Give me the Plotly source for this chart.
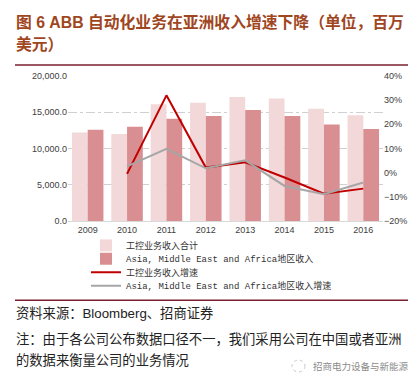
import plotly.graph_objects as go

years = ["2009", "2010", "2011", "2012", "2013", "2014", "2015", "2016"]
total_rev = [12200, 12000, 16100, 16300, 17100, 16900, 15500, 14600]
amea_rev = [12600, 13000, 14100, 14500, 15300, 14500, 13300, 12700]
total_growth = [None, -0.5, 32.0, 2.1, 4.3, -2.0, -8.7, -6.6]
amea_growth = [None, 2.6, 9.9, 1.8, 5.1, -5.5, -8.9, -4.1]

names = ["工控业务收入合计", "Asia, Middle East and Africa地区收入",
         "工控业务收入增速", "Asia, Middle East and Africa地区收入增速"]

W, H = 416, 377
L, R, T, B = 60, 41, 68, 163.5
pw, ph = W - L - R, H - T - B

def px(x):
    return (x - L) / pw

def py(y):
    return (H - B - y) / ph

fig = go.Figure()
fig.add_trace(go.Bar(x=years, y=total_rev, name=names[0], marker_color="#F2D8D9",
                     marker_line_width=0, legend="legend"))
fig.add_trace(go.Bar(x=years, y=amea_rev, name=names[1], marker_color="#D98F91",
                     marker_line_width=0, legend="legend2"))
fig.add_trace(go.Scatter(x=years, y=total_growth, name=names[2], yaxis="y2",
                         mode="lines", line=dict(color="#C00000", width=2),
                         legend="legend3"))
fig.add_trace(go.Scatter(x=years, y=amea_growth, name=names[3], yaxis="y2",
                         mode="lines", line=dict(color="#A6A6A6", width=2),
                         legend="legend4"))

legfont = dict(family="Liberation Mono, Noto Sans CJK SC", size=9, color="#333333")

def leg(ycenter):
    return dict(x=px(78), y=py(ycenter), xanchor="left", yanchor="middle",
                font=legfont, itemwidth=30, bgcolor="rgba(0,0,0,0)",
                borderwidth=0, tracegroupgap=0)

tickfont = dict(family="Liberation Sans, Arial", size=9, color="#404040")
fig.update_layout(
    width=W, height=H, margin=dict(l=L, r=R, t=T, b=B),
    paper_bgcolor="white", plot_bgcolor="white",
    barmode="group", bargap=0.2, bargroupgap=0,
    showlegend=True,
    legend=leg(238), legend2=leg(251.5), legend3=leg(265), legend4=leg(278.5),
    xaxis=dict(tickfont=tickfont, showgrid=False, showline=True,
               linecolor="#D9D9D9", linewidth=1, ticks=""),
    yaxis=dict(range=[0, 20000], dtick=5000, tickformat=",.1f",
               tickfont=tickfont, showgrid=True, gridcolor="#D0D0D0",
               griddash="dashdot", gridwidth=1, zeroline=False, ticks=""),
    yaxis2=dict(range=[-20, 40], dtick=10, ticksuffix="%", overlaying="y",
                side="right", tickfont=tickfont, showgrid=False,
                zeroline=False, ticks=""),
    font=dict(family="Noto Sans CJK SC"),
)

title_color = "#A0461E"
tfont = dict(family="Liberation Sans, Noto Sans CJK SC", size=15.8, color=title_color)
fig.add_annotation(text="<b>图 6 ABB 自动化业务在亚洲收入增速下降（单位，百万</b>",
                   xref="paper", yref="paper", x=px(6), y=py(14),
                   xanchor="left", yanchor="middle", showarrow=False, font=tfont)
fig.add_annotation(text="<b>美元）</b>",
                   xref="paper", yref="paper", x=px(6), y=py(36),
                   xanchor="left", yanchor="middle", showarrow=False, font=tfont)

for yline in (57, 293):
    fig.add_shape(type="line", xref="paper", yref="paper",
                  x0=px(7), x1=px(412), y0=py(yline), y1=py(yline),
                  line=dict(color="#7A1F2E", width=1.5))

body = dict(family="Liberation Sans, Noto Sans CJK SC", size=13.3, color="#222222")
fig.add_annotation(text="资料来源：Bloomberg、招商证券", xref="paper", yref="paper",
                   x=px(6), y=py(306), xanchor="left", yanchor="middle",
                   showarrow=False, font=body)
fig.add_annotation(text="注：由于各公司公布数据口径不一，我们采用公司在中国或者亚洲",
                   xref="paper", yref="paper", x=px(6), y=py(332),
                   xanchor="left", yanchor="middle", showarrow=False, font=body)
fig.add_annotation(text="的数据来衡量公司的业务情况",
                   xref="paper", yref="paper", x=px(6), y=py(353),
                   xanchor="left", yanchor="middle", showarrow=False, font=body)
fig.add_annotation(text="招商电力设备与新能源",
                   xref="paper", yref="paper", x=px(303), y=py(359),
                   xanchor="left", yanchor="middle", showarrow=False,
                   font=dict(family="Noto Sans CJK SC", size=9.5, color="#8C8C8C"))
fig.add_shape(type="circle", xref="paper", yref="paper",
              x0=px(284), x1=px(297), y0=py(365), y1=py(353),
              line=dict(color="#C8C8C8", width=1, dash="dot"))

fig.write_html("out.html")
